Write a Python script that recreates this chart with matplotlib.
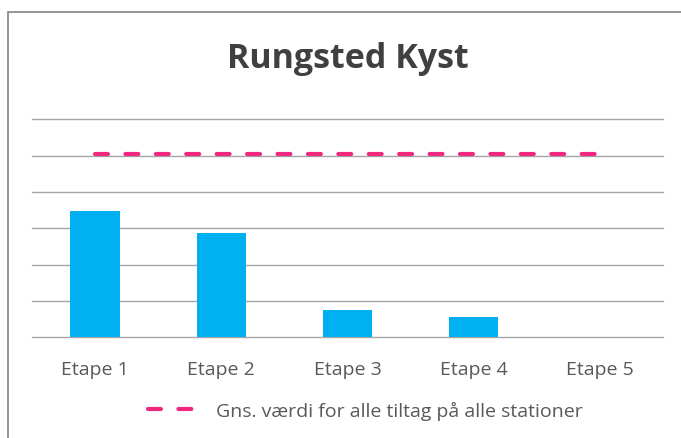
import numpy as np
import matplotlib
matplotlib.use("Agg")
from matplotlib import pyplot as plt
from matplotlib.lines import Line2D
from matplotlib.patches import Rectangle

categories = ["Etape 1", "Etape 2", "Etape 3", "Etape 4", "Etape 5"]
bar_values = [3.48, 2.86, 0.76, 0.55, 0.0]
avg_values = [5.04, 5.04, 5.04, 5.04, 5.04]
avg_label = "Gns. værdi for alle tiltag på alle stationer"
title = "Rungsted Kyst"

plt.rcParams['font.family'] = ['Open Sans', 'DejaVu Sans']

fig = plt.figure(figsize=(6.81, 4.39), dpi=100)
W, H = 681, 439

# outer chart border (only left and top visible in the crop)
fig.patches.append(Rectangle((7.5 / W, -0.1), 1.2, 1 - 12.5 / H + 0.1,
                             transform=fig.transFigure, fill=False,
                             edgecolor='#8c8c8c', lw=1.3))

ax = fig.add_axes([32 / W, (H - 338.3) / H, (663 - 32) / W, 218 / H])

x = np.arange(len(categories))
ax.bar(x, bar_values, width=0.39, color='#00B0F0', zorder=3)
ax.plot(x, avg_values, color='#F0287D', lw=3, linestyle=(0, (3.1, 4.2)),
        dash_capstyle='round', zorder=4)

ax.set_xlim(-0.5, len(categories) - 0.5)
ax.set_ylim(0, 6)
ax.set_yticks(np.arange(0, 7, 1))
ax.yaxis.grid(True, color='#a6a6a6', lw=1.0)
for gl in ax.get_ygridlines():
    gl.set_clip_on(False)
ax.set_axisbelow(True)
ax.tick_params(axis='y', left=False, labelleft=False)
ax.tick_params(axis='x', bottom=False, pad=13, labelsize=14, labelcolor='#595959')
ax.set_xticks(x)
ax.set_xticklabels(categories)
for s in ax.spines.values():
    s.set_visible(False)

fig.text(348 / W, (H - 68.3) / H, title, ha='center', va='baseline',
         fontsize=24.5, fontweight='bold', color='#404040')

handle = Line2D([], [], color='#F0287D', lw=3, linestyle=(0, (3.1, 4.2)),
                dash_capstyle='round')
leg = fig.legend([handle], [avg_label], loc='center', bbox_to_anchor=(365 / W, (H - 411) / H),
                 frameon=False, fontsize=14, handlelength=2.3, handletextpad=1.2,
                 labelcolor='#595959')

fig.savefig("out.png", dpi=100)
